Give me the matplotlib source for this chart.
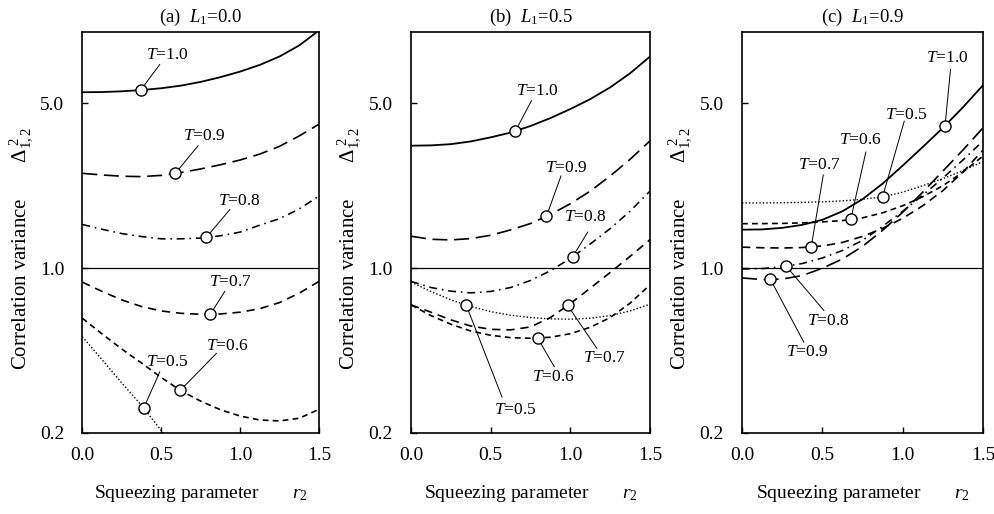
import numpy as np
import matplotlib
matplotlib.use('Agg')
import matplotlib.pyplot as plt

plt.rcParams['font.family'] = ['Liberation Serif', 'DejaVu Serif']
plt.rcParams['mathtext.fontset'] = 'custom'
plt.rcParams['mathtext.rm'] = 'Liberation Serif'
plt.rcParams['mathtext.it'] = 'Liberation Serif:italic'
plt.rcParams['mathtext.bf'] = 'Liberation Serif:bold'

# squeezing parameter r2 where the curves were read
r2 = [0.0, 0.125, 0.25, 0.375, 0.5, 0.625, 0.75, 0.875, 1.0, 1.125, 1.25, 1.375, 1.5]
T_values = [1.0, 0.9, 0.8, 0.7, 0.6, 0.5]
nan = np.nan

# (a) L1 = 0.0
a_t10 = [5.56, 5.57, 5.61, 5.68, 5.78, 5.93, 6.15, 6.44, 6.80, 7.26, 7.88, 8.78, 10.16]
a_t09 = [2.52, 2.48, 2.45, 2.44, 2.47, 2.54, 2.63, 2.74, 2.87, 3.04, 3.28, 3.63, 4.07]
a_t08 = [1.53, 1.46, 1.40, 1.36, 1.33, 1.33, 1.34, 1.37, 1.42, 1.52, 1.62, 1.78, 2.02]
a_t07 = [0.872, 0.796, 0.733, 0.687, 0.658, 0.643, 0.637, 0.639, 0.650, 0.673, 0.714, 0.783, 0.878]
a_t06 = [0.613, 0.526, 0.454, 0.396, 0.344, 0.302, 0.273, 0.251, 0.236, 0.227, 0.225, 0.231, 0.252]
a_t05 = [0.512, 0.409, 0.326, 0.262, 0.205, 0.163, nan, nan, nan, nan, nan, nan, nan]

# (b) L1 = 0.5
b_t10 = [3.30, 3.31, 3.35, 3.44, 3.58, 3.75, 4.00, 4.32, 4.72, 5.20, 5.83, 6.69, 7.88]
b_t09 = [1.364, 1.324, 1.316, 1.333, 1.377, 1.451, 1.544, 1.687, 1.873, 2.12, 2.455, 2.89, 3.46]
b_t08 = [0.878, 0.827, 0.798, 0.785, 0.796, 0.827, 0.886, 0.974, 1.099, 1.265, 1.47, 1.742, 2.12]
b_t07 = [0.698, 0.650, 0.603, 0.568, 0.550, 0.547, 0.563, 0.617, 0.707, 0.822, 0.958, 1.121, 1.320]
b_t06 = [0.698, 0.629, 0.578, 0.541, 0.519, 0.507, 0.504, 0.509, 0.527, 0.561, 0.617, 0.710, 0.849]
b_t05 = [0.872, 0.796, 0.733, 0.687, 0.654, 0.631, 0.617, 0.609, 0.607, 0.613, 0.629, 0.658, 0.703]

# (c) L1 = 0.9
c_t10 = [1.454, 1.458, 1.480, 1.524, 1.601, 1.740, 1.957, 2.278, 2.716, 3.257, 3.924, 4.797, 5.95]
c_t09 = [0.908, 0.894, 0.898, 0.929, 0.998, 1.092, 1.235, 1.444, 1.723, 2.096, 2.574, 3.162, 3.924]
c_t08 = [0.992, 0.995, 1.012, 1.045, 1.103, 1.187, 1.309, 1.502, 1.740, 2.035, 2.404, 2.868, 3.453]
c_t07 = [1.226, 1.219, 1.216, 1.222, 1.240, 1.284, 1.361, 1.473, 1.624, 1.836, 2.127, 2.549, 3.162]
c_t06 = [1.542, 1.543, 1.546, 1.554, 1.569, 1.589, 1.632, 1.714, 1.836, 2.005, 2.233, 2.549, 2.982]
c_t05 = [1.887, 1.888, 1.892, 1.898, 1.907, 1.926, 1.957, 2.001, 2.096, 2.233, 2.392, 2.587, 2.826]

# r2 of the open circle on each curve (order of T_values)
a_mark = [0.370, 0.590, 0.786, 0.812, 0.621, 0.389]
b_mark = [0.655, 0.850, 1.014, 0.983, 0.794, 0.346]
c_mark = [1.264, 0.177, 0.275, 0.431, 0.677, 0.875]

# label text centre and end of leader line, (r2, value)
a_lab = [((0.539, 7.96), (0.491, 7.29)), ((0.772, 3.61), (0.734, 3.30)),
         ((0.994, 1.92), (0.935, 1.77)), ((0.941, 0.872), (0.903, 0.796)),
         ((0.918, 0.469), (0.850, 0.435)), ((0.539, 0.401), (0.491, 0.363))]
b_lab = [((0.794, 5.65), (0.756, 5.12)), ((0.972, 2.66), (0.941, 2.455)),
         ((1.092, 1.643), (1.109, 1.42)), ((1.213, 0.417), (1.166, 0.457)),
         ((0.892, 0.346), (0.899, 0.382)), ((0.651, 0.251), (0.571, 0.284))]
c_lab = [((1.275, 7.79), (1.298, 6.95)), ((0.406, 0.44), (0.385, 0.485)),
         ((0.535, 0.594), (0.510, 0.661)), ((0.479, 2.74), (0.506, 2.48)),
         ((0.739, 3.50), (0.771, 3.10)), ((1.021, 4.44), (1.010, 4.19))]

styles = {
    1.0: dict(ls='-', lw=1.3),
    0.9: dict(ls=(0, (9, 4)), lw=1.2),
    0.8: dict(ls=(0, (5, 3, 1, 3)), lw=1.15),
    0.7: dict(ls=(0, (5, 3.5)), lw=1.2),
    0.6: dict(ls=(0, (3.5, 2.5)), lw=1.2),
    0.5: dict(ls=(0, (1, 1.5)), lw=1.0),
}

panels = [
    ('(a)', '0.0', [a_t10, a_t09, a_t08, a_t07, a_t06, a_t05], a_mark, a_lab, [0.0827, 0.1576, 0.2379, 0.780]),
    ('(b)', '0.5', [b_t10, b_t09, b_t08, b_t07, b_t06, b_t05], b_mark, b_lab, [0.4131, 0.1576, 0.2402, 0.780]),
    ('(c)', '0.9', [c_t10, c_t09, c_t08, c_t07, c_t06, c_t05], c_mark, c_lab, [0.7457, 0.1576, 0.2422, 0.780]),
]

fig = plt.figure(figsize=(9.95, 5.14), dpi=100)

for tag, L1, curves, marks, labs, rect in panels:
    ax = fig.add_axes(rect)
    ax.set_yscale('log')
    for T, vals in zip(T_values, curves):
        ax.plot(r2, vals, color='k', **styles[T])
    ax.axhline(1.0, color='k', lw=0.9)

    for T, vals, mr, lab in zip(T_values, curves, marks, labs):
        mv = 10 ** np.interp(mr, r2, np.log10(vals))
        (tx, ty), (ex, ey) = lab
        ax.plot([mr, ex], [mv, ey], color='k', lw=0.7, zorder=4)
        ax.plot(mr, mv, 'o', ms=8, mfc='white', mec='k', mew=1.0, zorder=5)
        ax.text(tx, ty, r'$T$=%.1f' % T, ha='center', va='center', fontsize=12.5)

    ax.set_xlim(0, 1.5)
    ax.set_ylim(0.2, 10)
    ax.set_xticks([0, 0.5, 1.0, 1.5])
    ax.set_xticklabels(['0.0', '0.5', '1.0', '1.5'])
    ax.set_yticks([0.2, 1.0, 5.0])
    ax.set_yticklabels(['0.2', '1.0', '5.0'])
    ax.yaxis.set_minor_locator(matplotlib.ticker.NullLocator())
    ax.tick_params(direction='in', length=4, width=1, labelsize=14)
    ax.tick_params(axis='y', pad=13)
    ax.tick_params(axis='x', pad=10)
    for s in ax.spines.values():
        s.set_linewidth(1.2)

    ax.set_title(tag + r'  $L_1$=' + L1, fontsize=13.5, pad=7)
    ax.set_xlabel(r'Squeezing parameter       $r_2$', fontsize=14)
    ax.xaxis.set_label_coords(0.5, -0.125)
    ax.set_ylabel(r'Correlation variance       $\Delta_{1,2}^{\ 2}$', fontsize=15)
    ax.yaxis.set_label_coords(-0.20, 0.46)

fig.savefig('out.png', dpi=100)
